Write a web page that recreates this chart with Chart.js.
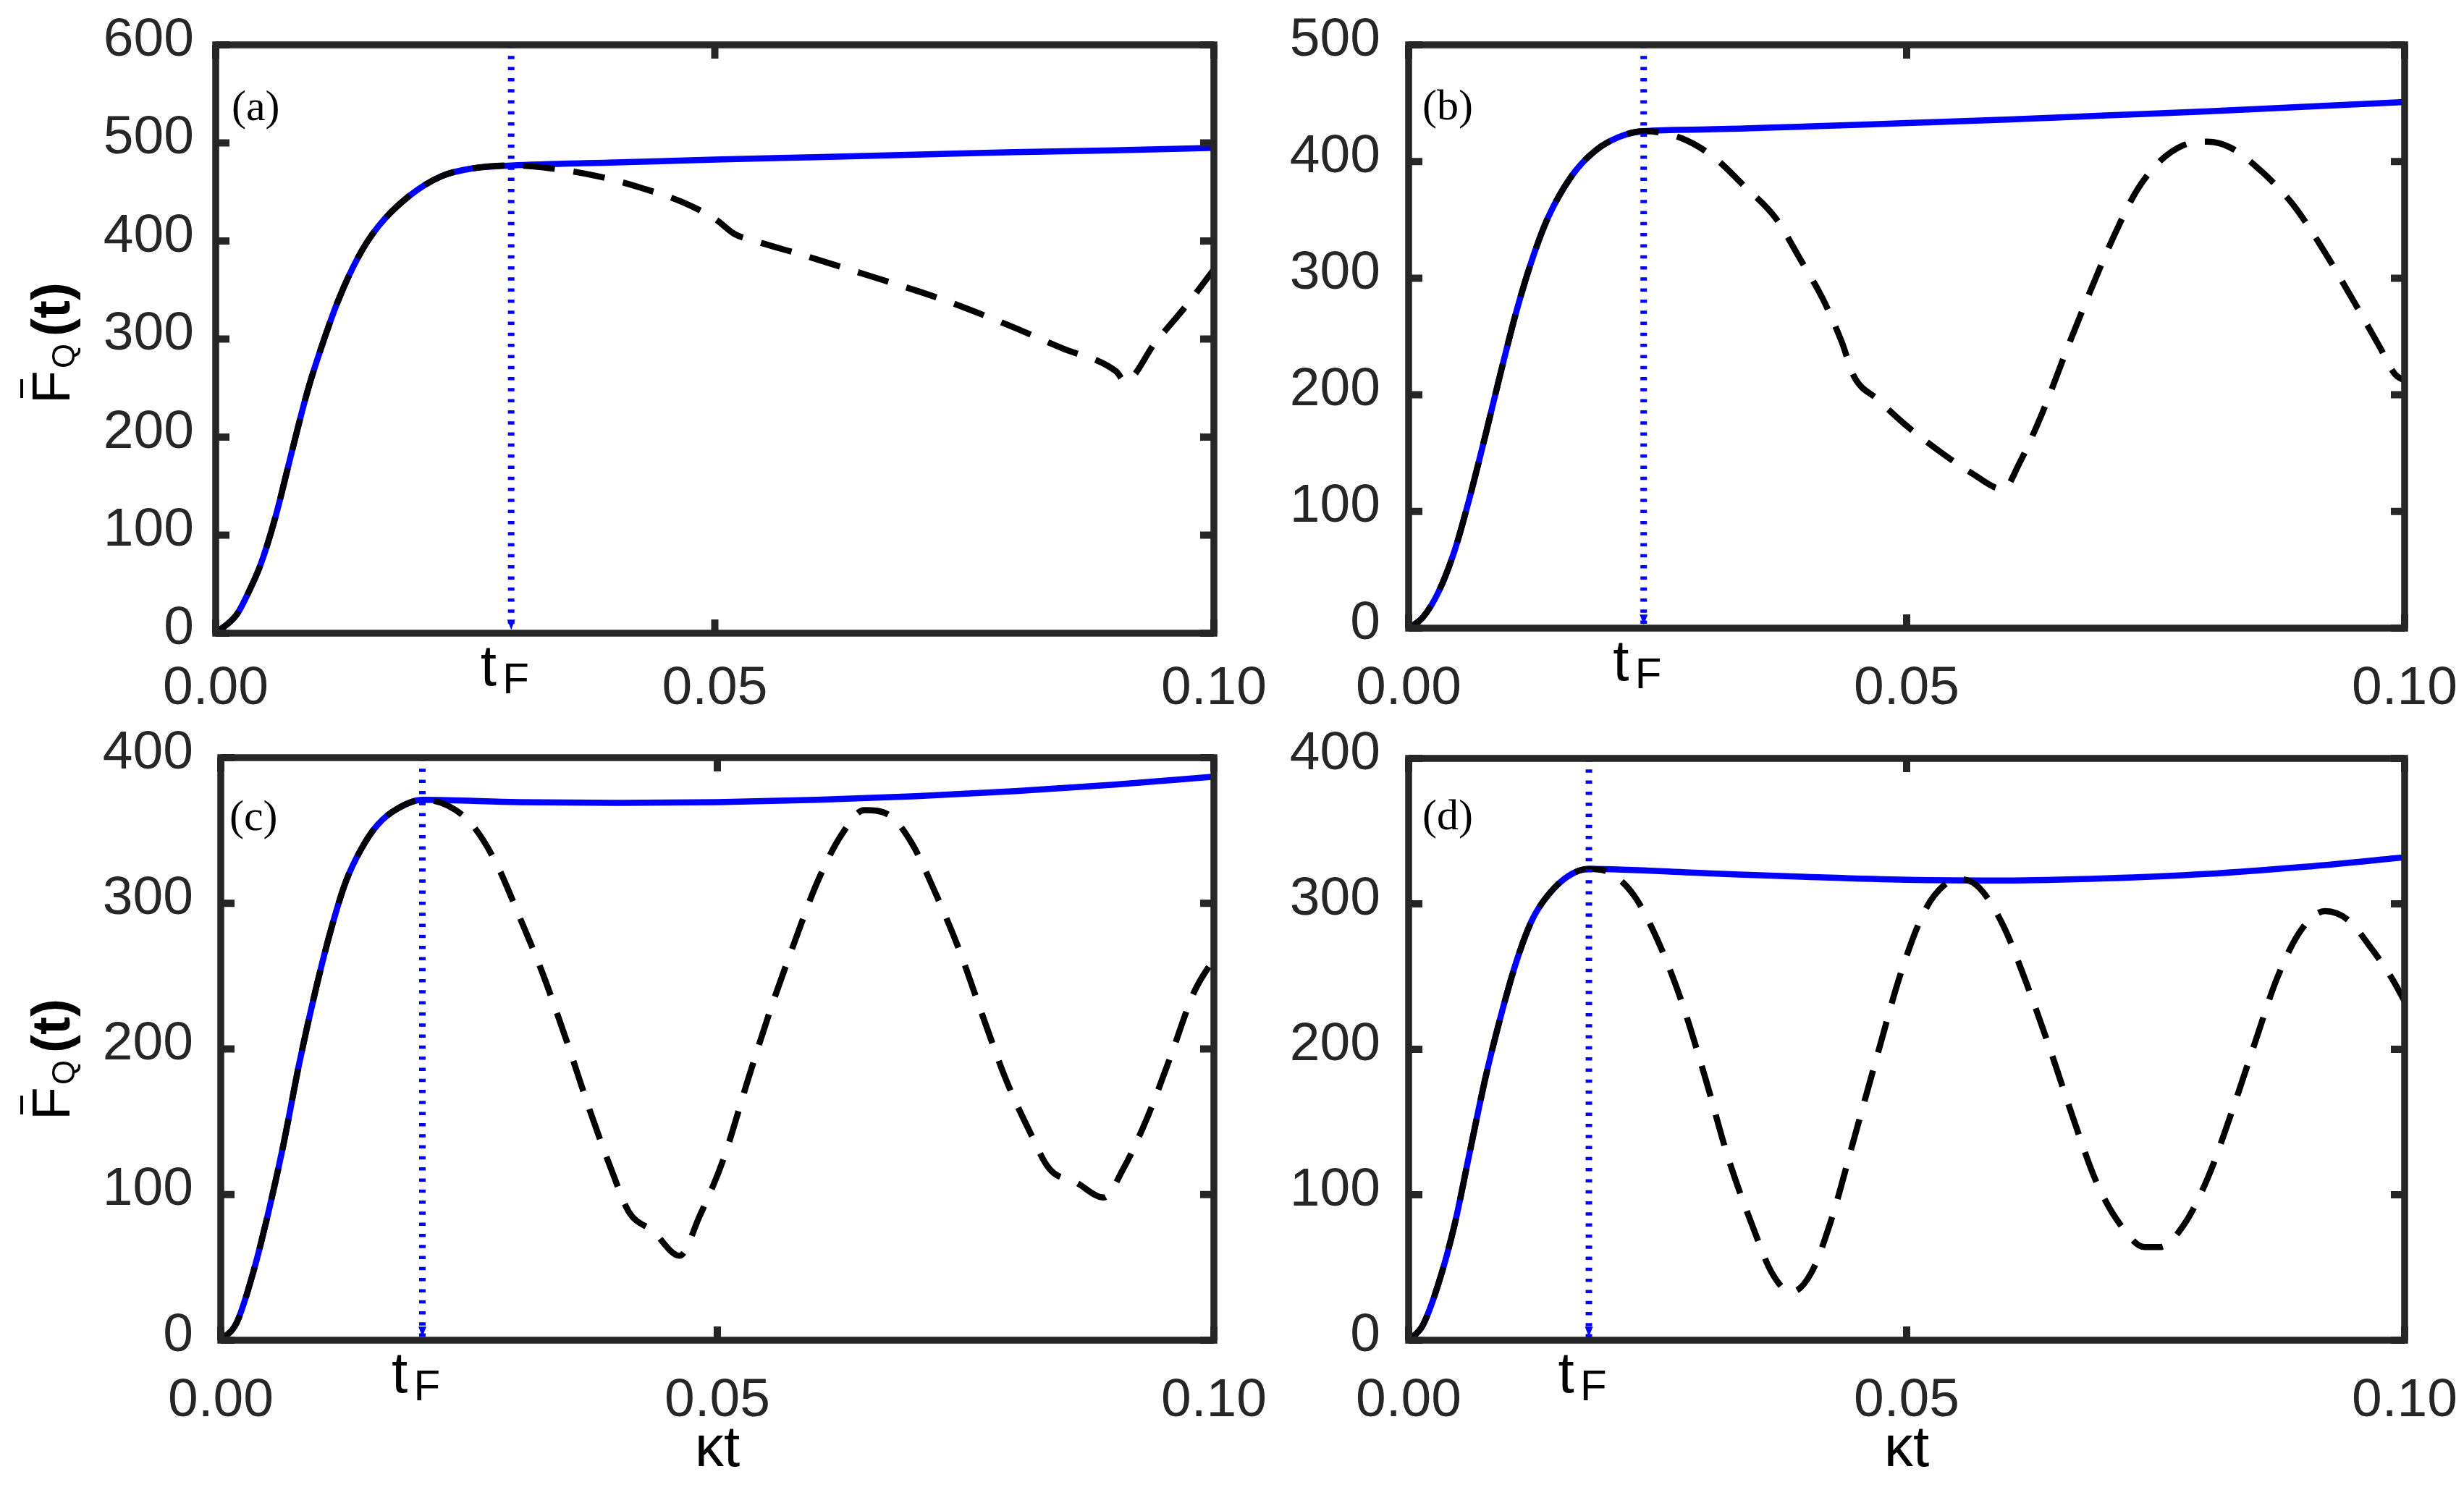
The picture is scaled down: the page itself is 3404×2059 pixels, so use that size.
<!DOCTYPE html>
<html>
<head>
<meta charset="utf-8">
<script src="https://cdn.jsdelivr.net/npm/chart.js@4.4.0/dist/chart.umd.min.js"></script>
<style>
html,body{margin:0;padding:0;background:#fff;}
#wrap{position:relative;width:3404px;height:2059px;overflow:hidden;background:#fff;}
canvas{position:absolute;left:0;top:0;}
</style>
</head>
<body>
<div id="wrap">
<canvas id="ca" width="3404" height="2059"></canvas>
<canvas id="cb" width="3404" height="2059"></canvas>
<canvas id="cc" width="3404" height="2059"></canvas>
<canvas id="cd" width="3404" height="2059"></canvas>
</div>
<script>
// ---------------- data ----------------
const xTicks = [0, 0.05, 0.1];
const panelTags = ['(a)', '(b)', '(c)', '(d)'];
const yMaxes = [600, 500, 400, 400];
const tFs = [0.0296, 0.0236, 0.0203, 0.0181];

// panel (a)
const riseT_a = [0, 0.0021, 0.0033, 0.0045, 0.006, 0.0076, 0.0092, 0.0108, 0.0123, 0.0143, 0.0163, 0.0194, 0.0226, 0.0257, 0.0296];
const riseF_a = [0, 19, 42, 70, 119, 184, 247, 298, 340, 384, 415, 446, 466, 474, 477];
const platT_a = [0.0296, 0.04, 0.05, 0.06, 0.07, 0.08, 0.09, 0.1];
const platF_a = [477, 480, 483, 485.5, 488, 490.5, 492.5, 495];
const oscT_a = [0.0296, 0.0336, 0.0383, 0.043, 0.0469, 0.0501, 0.052, 0.054, 0.0587, 0.065, 0.0729, 0.0792, 0.0847, 0.0902, 0.0911, 0.0941, 0.0973, 0.1];
const oscF_a = [477, 474, 466, 453, 439, 422, 407, 400, 386, 366, 340, 315, 291, 267, 257, 296, 335, 371];

// panel (b)
const riseT_b = [0, 0.0014, 0.003, 0.0046, 0.0061, 0.0077, 0.0093, 0.0109, 0.0124, 0.014, 0.0164, 0.0187, 0.0211, 0.0236];
const riseF_b = [0, 9, 31, 66, 111, 165, 221, 274, 316, 352, 388, 409, 421, 426];
const platT_b = [0.0236, 0.03, 0.04, 0.05, 0.06, 0.07, 0.08, 0.09, 0.1];
const platF_b = [426, 427.5, 430, 433, 436, 439.5, 443, 447, 451];
const oscT_b = [0.0236, 0.0274, 0.0306, 0.0337, 0.0369, 0.0392, 0.0416, 0.0435, 0.0447, 0.0471, 0.0502, 0.0534, 0.0565, 0.0597, 0.0613, 0.0636, 0.066, 0.0683, 0.0707, 0.0731, 0.0754, 0.0778, 0.0802, 0.0825, 0.0857, 0.0888, 0.092, 0.0951, 0.0975, 0.099, 0.1];
const oscF_b = [426, 420, 404, 379, 351, 318, 282, 245, 216, 196, 172, 151, 133, 119, 141, 184, 237, 286, 334, 375, 400, 414, 417, 412, 391, 363, 322, 277, 241, 218, 212];

// panel (c)
const riseT_c = [0, 0.0016, 0.0032, 0.0047, 0.0063, 0.0079, 0.0095, 0.0111, 0.0126, 0.0142, 0.0158, 0.0178, 0.0203];
const riseF_c = [0, 12, 45, 85, 134, 190, 239, 282, 315, 338, 354, 365, 371];
const platT_c = [0.0203, 0.03, 0.04, 0.05, 0.06, 0.07, 0.08, 0.09, 0.1];
const platF_c = [371, 369.5, 369, 369.5, 371, 373.5, 377, 381.5, 387];
const oscT_c = [0.0203, 0.0229, 0.0253, 0.0277, 0.03, 0.0324, 0.0348, 0.0372, 0.0395, 0.0411, 0.0435, 0.0462, 0.0482, 0.0506, 0.053, 0.0553, 0.0577, 0.0601, 0.0625, 0.0648, 0.0672, 0.0696, 0.0719, 0.0743, 0.0767, 0.079, 0.0814, 0.0834, 0.0862, 0.0889, 0.0909, 0.0933, 0.0957, 0.098, 0.1];
const oscF_c = [371, 367, 354, 328, 292, 252, 206, 157, 114, 88, 75, 58, 85, 124, 177, 226, 272, 315, 347, 364, 361, 341, 308, 269, 223, 180, 144, 118, 108, 98, 118, 153, 196, 239, 262];

// panel (d)
const riseT_d = [0, 0.0014, 0.003, 0.0046, 0.0061, 0.0077, 0.0093, 0.0109, 0.0124, 0.014, 0.016, 0.0181];
const riseF_d = [0, 10, 39, 79, 128, 180, 224, 262, 289, 306, 319, 324];
const platT_d = [0.0181, 0.03, 0.04, 0.05, 0.06, 0.07, 0.08, 0.09, 0.1];
const platF_d = [324, 321, 318.5, 316.5, 316, 317.5, 320.5, 325.5, 332];
const oscT_d = [0.0181, 0.0203, 0.0227, 0.025, 0.0274, 0.0298, 0.0321, 0.0345, 0.0365, 0.0384, 0.0404, 0.0424, 0.0447, 0.0471, 0.0494, 0.0518, 0.0538, 0.0554, 0.0573, 0.0597, 0.062, 0.0644, 0.0668, 0.0691, 0.0715, 0.0739, 0.0754, 0.0778, 0.0802, 0.0825, 0.0849, 0.0872, 0.0896, 0.092, 0.0943, 0.0967, 0.0987, 0.1];
const oscF_d = [324, 321, 305, 275, 233, 180, 125, 79, 46, 33, 46, 82, 138, 197, 252, 295, 313, 317, 311, 285, 246, 200, 151, 108, 79, 64, 64, 79, 111, 154, 203, 249, 282, 295, 289, 269, 249, 233];

// ---------------- layout / style ----------------
const W = 3404, H = 2059, XH = 150;
const AXIS = '#262626';
const BLUE = '#0000ff';
const SANS = '"Liberation Sans", Arial, Helvetica, sans-serif';
const SERIF = '"Liberation Serif", "Times New Roman", serif';

const layouts = [
  {id:'ca', box:{l:298, r:1677, t:62, b:875}, yPad:22, xPad:24, tagDx:22, tagDy:104, yTitleY:558, xTitle:false},
  {id:'cb', box:{l:1946, r:3322, t:62, b:868}, yPad:31, xPad:31, tagDx:19, tagDy:103, yTitleY:null, xTitle:false},
  {id:'cc', box:{l:305, r:1677, t:1047, b:1852}, yPad:30, xPad:31, tagDx:12, tagDy:100, yTitleY:1548, xTitle:true},
  {id:'cd', box:{l:1946, r:3322, t:1048, b:1852}, yPad:31, xPad:31, tagDx:19, tagDy:98, yTitleY:null, xTitle:true}
];
const series = [
  [riseT_a, riseF_a, platT_a, platF_a, oscT_a, oscF_a],
  [riseT_b, riseF_b, platT_b, platF_b, oscT_b, oscF_b],
  [riseT_c, riseF_c, platT_c, platF_c, oscT_c, oscF_c],
  [riseT_d, riseF_d, platT_d, platF_d, oscT_d, oscF_d]
];

function pts(T, F) { return T.map((t, i) => ({x: t, y: F[i]})); }
function noPad(s) { s.paddingTop = 0; s.paddingBottom = 0; s.paddingLeft = 0; s.paddingRight = 0; }

function drawYTitle(ctx, startY) {
  ctx.save();
  ctx.translate(96, startY);
  ctx.rotate(-Math.PI / 2);
  ctx.fillStyle = '#000';
  ctx.textAlign = 'left';
  ctx.textBaseline = 'alphabetic';
  ctx.font = '75px ' + SANS;
  ctx.fillText('F', 0, 0);
  ctx.fillRect(8, -68, 26, 4);
  ctx.font = '44px ' + SANS;
  ctx.fillText('Q', 49, 7);
  ctx.font = 'bold 75px ' + SANS;
  ctx.fillText('(t)', 93, 0);
  ctx.restore();
}

function framePlugin(idx) {
  const L = layouts[idx];
  return {
    id: 'frame' + idx,
    afterDraw(chart) {
      const ctx = chart.ctx;
      const {left, right, top, bottom} = chart.chartArea;
      const x = chart.scales.x, y = chart.scales.y;
      ctx.save();
      ctx.strokeStyle = AXIS;
      ctx.lineCap = 'butt';
      ctx.lineWidth = 10;
      ctx.beginPath();
      y.ticks.forEach(t => {
        const py = y.getPixelForValue(t.value);
        ctx.moveTo(left, py); ctx.lineTo(left + 19, py);
        ctx.moveTo(right, py); ctx.lineTo(right - 19, py);
      });
      x.ticks.forEach(t => {
        const px = x.getPixelForValue(t.value);
        ctx.moveTo(px, bottom); ctx.lineTo(px, bottom - 19);
        ctx.moveTo(px, top); ctx.lineTo(px, top + 19);
      });
      ctx.stroke();
      ctx.lineWidth = 9.5;
      ctx.strokeRect(left, top, right - left, bottom - top);

      // arrow head of the t_F marker
      const pxF = x.getPixelForValue(tFs[idx]);
      const tip = bottom - 4.75;
      ctx.fillStyle = BLUE;
      ctx.beginPath();
      ctx.moveTo(pxF, tip);
      ctx.lineTo(pxF - 5.5, tip - 14);
      ctx.lineTo(pxF + 5.5, tip - 14);
      ctx.closePath();
      ctx.fill();

      // t_F label
      ctx.fillStyle = '#000';
      ctx.textAlign = 'left';
      ctx.textBaseline = 'alphabetic';
      ctx.font = '80px ' + SANS;
      ctx.fillText('t', pxF - 42.5, bottom + 71.5);
      ctx.font = '60px ' + SANS;
      ctx.fillText('F', pxF - 12, bottom + 82.5);

      // panel tag
      ctx.font = '60px ' + SERIF;
      ctx.fillText(panelTags[idx], left + L.tagDx, top + L.tagDy);

      if (L.yTitleY !== null) drawYTitle(ctx, L.yTitleY);
      if (L.xTitle) {
        ctx.font = '80px ' + SANS;
        ctx.textAlign = 'center';
        ctx.fillText('\u03BAt', (left + right) / 2, bottom + 174);
      }
      ctx.restore();
    }
  };
}

layouts.forEach((L, idx) => {
  const [rT, rF, pT, pF, oT, oF] = series[idx];
  const blueData = pts(rT, rF).concat(pts(pT, pF).slice(1));
  const blackData = pts(rT, rF).concat(pts(oT, oF).slice(1));
  const markerData = [{x: tFs[idx], y: yMaxes[idx]}, {x: tFs[idx], y: 0}];
  new Chart(document.getElementById(L.id), {
    type: 'line',
    data: {
      datasets: [
        {data: markerData, borderColor: BLUE, borderWidth: 9, borderDash: [4.5, 10.8], pointRadius: 0, tension: 0, fill: false},
        {data: blackData, borderColor: '#000', borderWidth: 8.5, borderDash: [44, 26], pointRadius: 0, cubicInterpolationMode: 'monotone', fill: false},
        {data: blueData, borderColor: BLUE, borderWidth: 8.5, pointRadius: 0, cubicInterpolationMode: 'monotone', fill: false}
      ]
    },
    options: {
      responsive: false,
      devicePixelRatio: 1,
      animation: false,
      events: [],
      layout: {padding: {left: 0, top: L.box.t, right: W - L.box.r, bottom: H - L.box.b - XH}},
      plugins: {legend: {display: false}, tooltip: {enabled: false}},
      scales: {
        x: {
          type: 'linear', min: 0, max: 0.1,
          grid: {display: false}, border: {display: false},
          afterBuildTicks: s => { s.ticks = xTicks.map(v => ({value: v})); },
          afterFit: s => { s.height = XH; noPad(s); },
          ticks: {
            color: AXIS, padding: L.xPad, maxRotation: 0, autoSkip: false,
            font: {family: SANS, size: 75, lineHeight: 1.2},
            callback: v => Number(v).toFixed(2)
          }
        },
        y: {
          type: 'linear', min: 0, max: yMaxes[idx],
          grid: {display: false}, border: {display: false},
          afterFit: s => { s.width = L.box.l; noPad(s); },
          ticks: {
            stepSize: 100, color: AXIS, padding: L.yPad, labelOffset: -6,
            font: {family: SANS, size: 75, lineHeight: 1.2},
            callback: v => String(v)
          }
        }
      }
    },
    plugins: [framePlugin(idx)]
  });
});
</script>
</body>
</html>
